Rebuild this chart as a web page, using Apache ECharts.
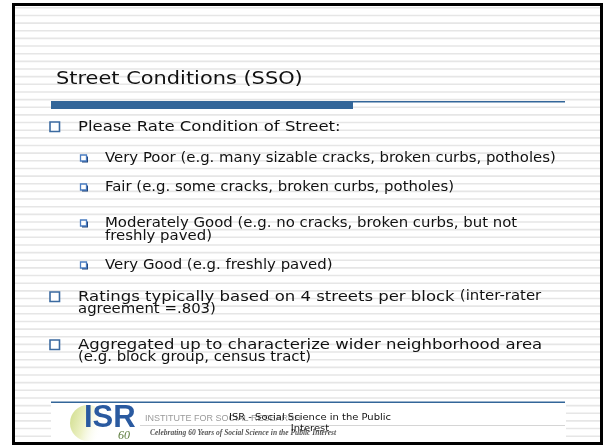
<!DOCTYPE html>
<html>
<head>
<meta charset="utf-8">
<script src="https://cdn.jsdelivr.net/npm/echarts@6/dist/echarts.min.js"></script>
<style>
html,body{margin:0;padding:0;background:#fff;}
#chart{width:604px;height:445px;}
</style>
</head>
<body>
<div id="chart"></div>
<script>
// ---- slide content ----
const slideTitle = 'Street Conditions (SSO)';
const ratingPrompt = 'Please Rate Condition of Street:';
const ratingLevels = [
  ['Very Poor (e.g. many sizable cracks, broken curbs, potholes)'],
  ['Fair (e.g. some cracks, broken curbs, potholes)'],
  ['Moderately Good (e.g. no cracks, broken curbs, but not', 'freshly paved)'],
  ['Very Good (e.g. freshly paved)']
];
const notesMain = ['Ratings typically based on 4 streets per block ', 'Aggregated up to characterize wider neighborhood area'];
const notesSmall = [['(inter-rater', 'agreement =.803)'], ['', '(e.g. block group, census tract)']];
const logoLetters = ['ISR', '60'];
const logoLines = ['INSTITUTE FOR SOCIAL RESEARCH', 'Celebrating 60 Years of Social Science in the Public Interest'];
const footerCaption = ['ISR - Social Science in the Public', 'Interest'];

// ---- drawing ----
const W = 604, H = 445;
const FONT = '"DejaVu Sans", Verdana, sans-serif';
const BLUE = '#336699';
const SX = 1.13; // horizontal stretch of the slide text
const els = [];

// lined background
for (let y = 7; y < 442; y += 7.65) {
  els.push({type: 'rect', shape: {x: 15, y: y, width: 585, height: 1.6}, style: {fill: '#e6e6e6'}, silent: true});
}

function txt(x, y, text, font, extra) {
  els.push(Object.assign({type: 'text', x: x, y: y, scaleX: SX,
    style: {text: text, font: font, fill: '#111', verticalAlign: 'middle'}}, extra || {}));
}

// title
txt(56, 79, slideTitle, '18.5px ' + FONT);
// title rule
els.push({type: 'rect', shape: {x: 51, y: 101, width: 302, height: 8}, style: {fill: BLUE}});
els.push({type: 'rect', shape: {x: 353, y: 101, width: 212, height: 1.5}, style: {fill: BLUE}});

function mainBullet(y) {
  els.push({type: 'rect', shape: {x: 50, y: y - 5, width: 9.5, height: 9.5}, style: {fill: '#fff', stroke: '#3b6aa0', lineWidth: 1.6}});
}
function subBullet(y) {
  els.push({type: 'rect', shape: {x: 82, y: y - 2.5, width: 6, height: 6}, style: {fill: '#1d3f73'}});
  els.push({type: 'rect', shape: {x: 80.5, y: y - 4, width: 6, height: 6}, style: {fill: '#fff', stroke: '#4a7cc0', lineWidth: 1.3}});
}

const MAIN = '14.6px ' + FONT;
const SUB = '13.2px ' + FONT;

// level 1: prompt
const promptY = 127;
mainBullet(promptY);
txt(78, promptY, ratingPrompt, MAIN);

// level 2: rating levels
const levelY = [159, 188, 224, 266];
ratingLevels.forEach((lines, i) => {
  subBullet(levelY[i]);
  lines.forEach((t, j) => txt(105, levelY[i] + j * 13, t, SUB));
});

// level 1 notes
const noteY = [297, 345];
notesMain.forEach((t, i) => {
  const y = noteY[i];
  mainBullet(y);
  const small = notesSmall[i];
  els.push({type: 'text', x: 78, y: y, scaleX: SX, style: {
    text: '{a|' + t + '}' + (small[0] ? '{b|' + small[0] + '}' : ''),
    verticalAlign: 'middle',
    rich: {a: {font: MAIN, fill: '#111'}, b: {font: SUB, fill: '#111'}}
  }});
  txt(78, y + 13, small[1], SUB);
});

// footer
els.push({type: 'rect', shape: {x: 51, y: 403, width: 515, height: 39}, style: {fill: '#fff'}});
els.push({type: 'rect', shape: {x: 51, y: 401.5, width: 514, height: 1.4}, style: {fill: BLUE}});
// logo swirl
els.push({type: 'circle', shape: {cx: 88, cy: 423, r: 18}, style: {fill: {type: 'linear', x: 0, y: 0, x2: 1, y2: 0.3, colorStops: [{offset: 0, color: '#cfdc8a'}, {offset: 0.5, color: '#eef2c8'}, {offset: 1, color: 'rgba(255,255,255,0)'}]}}});
els.push({type: 'text', x: 84, y: 418, style: {text: logoLetters[0], font: 'bold 31px "Liberation Sans", Arial, sans-serif', fill: '#2a5aa0', verticalAlign: 'middle'}});
els.push({type: 'text', x: 118, y: 436, style: {text: logoLetters[1], font: 'italic 12px "Liberation Serif", serif', fill: '#5a7a3a', verticalAlign: 'middle'}});
els.push({type: 'rect', shape: {x: 140, y: 425, width: 425, height: 1}, style: {fill: '#d5d5d5'}});
els.push({type: 'text', x: 145, y: 419, style: {text: logoLines[0], font: '9px "Liberation Sans", Arial, sans-serif', fill: '#9a9a9a', verticalAlign: 'middle'}});
els.push({type: 'text', x: 150, y: 433, style: {text: logoLines[1], font: 'italic bold 7.5px "Liberation Serif", serif', fill: '#555', verticalAlign: 'middle'}});
footerCaption.forEach((t, i) => {
  els.push({type: 'text', x: 310, y: 418 + i * 11, scaleX: 1.05, style: {text: t, font: '9.5px ' + FONT, fill: '#111', align: 'center', verticalAlign: 'middle'}});
});

// frame
els.push({type: 'rect', shape: {x: 13.5, y: 4.5, width: 588, height: 439}, style: {fill: 'none', stroke: '#000', lineWidth: 3}});

const chart = echarts.init(document.getElementById('chart'), null, {renderer: 'canvas', width: W, height: H});
chart.setOption({animation: false, backgroundColor: '#fff', graphic: {elements: els}});
</script>
</body>
</html>
